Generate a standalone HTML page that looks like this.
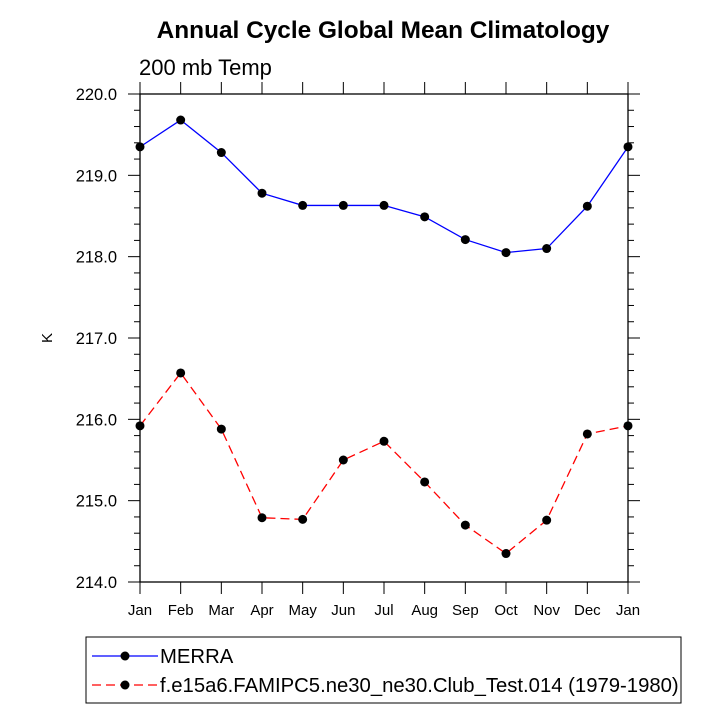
<!DOCTYPE html>
<html><head><meta charset="utf-8"><style>body{margin:0;background:#fff}svg{display:block}</style></head>
<body>
<svg id="c" width="722" height="722" xmlns="http://www.w3.org/2000/svg" font-family="Liberation Sans, Arial, sans-serif">
<text x="383" y="38" text-anchor="middle" font-size="24.4" font-weight="bold">Annual Cycle Global Mean Climatology</text>
<text x="139" y="75" font-size="22">200 mb Temp</text>
<text x="52" y="338" font-size="15" text-anchor="middle" transform="rotate(-90 52 338)">K</text>
<g id="axes"></g>
<g id="series"></g>
<rect x="86" y="637" width="595" height="66" fill="none" stroke="#000" stroke-width="1"/>
<g>
<line x1="92" y1="656" x2="158" y2="656" stroke="#00f" stroke-width="1.3"/>
<circle cx="125" cy="656" r="4.5" fill="#000"/>
<text x="160" y="663" font-size="20.3">MERRA</text>
</g>
<g>
<line x1="92" y1="685" x2="158" y2="685" stroke="#f00" stroke-width="1.3" stroke-dasharray="9,5"/>
<circle cx="125" cy="685" r="4.5" fill="#000"/>
<text x="160" y="692" font-size="20.3">f.e15a6.FAMIPC5.ne30_ne30.Club_Test.014 (1979-1980)</text>
</g>
</svg>
<script>
const months = ["Jan","Feb","Mar","Apr","May","Jun","Jul","Aug","Sep","Oct","Nov","Dec","Jan"];
const merra = [219.35,219.68,219.28,218.78,218.63,218.63,218.63,218.49,218.21,218.05,218.10,218.62,219.35];
const model = [215.92,216.57,215.88,214.79,214.77,215.50,215.73,215.23,214.70,214.35,214.76,215.82,215.92];
const yTicks = [214,215,216,217,218,219,220];
const yTickLabels = ["214.0","215.0","216.0","217.0","218.0","219.0","220.0"];
const NS="http://www.w3.org/2000/svg";
const L=140,R=628,T=94,B=582,yMin=214,yMax=220;
const xs=i=>L+(R-L)*i/(months.length-1);
const ys=v=>B-(B-T)*(v-yMin)/(yMax-yMin);
function mk(tag,attrs,parent){const e=document.createElementNS(NS,tag);for(const k in attrs)e.setAttribute(k,attrs[k]);parent.appendChild(e);return e;}
const ax=document.getElementById('axes');
const frame=mk('rect',{x:L,y:T,width:R-L,height:B-T,fill:'none',stroke:'#000','stroke-width':1.3},ax);


for(let v=yMin;v<=yMax+1e-9;v+=0.2){
  const y=ys(v);const major=Math.abs(v-Math.round(v))<1e-6;const len=major?12:6;
  mk('line',{x1:L-len,y1:y,x2:L,y2:y,stroke:'#000','stroke-width':1},ax);
  mk('line',{x1:R,y1:y,x2:R+len,y2:y,stroke:'#000','stroke-width':1},ax);
}
yTicks.forEach((v,i)=>{
  const t=mk('text',{x:L-23,y:ys(v)+6,'text-anchor':'end','font-size':16.5},ax);
  t.textContent=yTickLabels[i];
  
  
});
months.forEach((m,i)=>{
  const x=xs(i);
  mk('line',{x1:x,y1:B,x2:x,y2:B+12,stroke:'#000','stroke-width':1},ax);
  mk('line',{x1:x,y1:T,x2:x,y2:T-12,stroke:'#000','stroke-width':1},ax);
  const t=mk('text',{x:x,y:B+33,'text-anchor':'middle','font-size':15},ax);
  t.textContent=m;
  
  
});
const sg=document.getElementById('series');
function drawSeries(vals,color,dash,name){
  const g=mk('g',{},sg);
  
  
  const pts=vals.map((v,i)=>xs(i)+','+ys(v)).join(' ');
  const a={points:pts,fill:'none',stroke:color,'stroke-width':1.3};
  if(dash)a['stroke-dasharray']=dash;
  mk('polyline',a,g);
  vals.forEach((v,i)=>{
    const c=mk('circle',{cx:xs(i),cy:ys(v),r:4.5,fill:'#000'},g);
    
    
  });
}
drawSeries(merra,'#00f',null,'merra-series');
drawSeries(model,'#f00','9,5','model-series');
</script>
</body></html>
